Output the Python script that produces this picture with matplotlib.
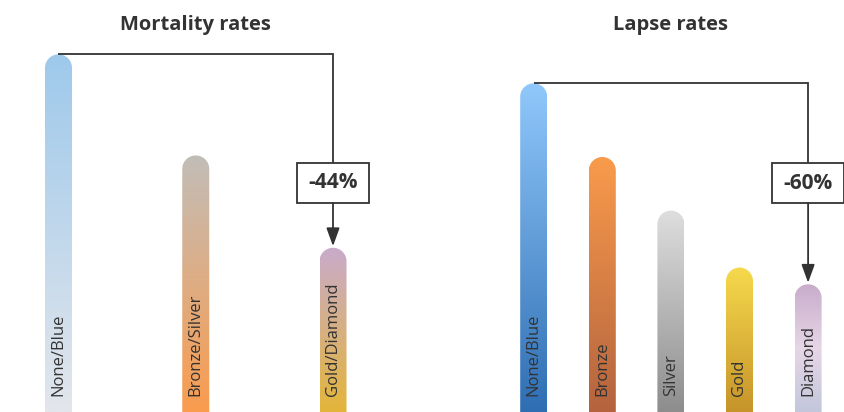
import numpy as np
import matplotlib
matplotlib.use("Agg")
import matplotlib.pyplot as plt
from matplotlib.path import Path
from matplotlib.patches import PathPatch, Rectangle
from matplotlib.colors import to_rgb
import matplotlib.transforms as mtransforms

plt.rcParams['font.family'] = ['Open Sans', 'DejaVu Sans']

# ---------------- data ----------------
mort_categories = ["None/Blue", "Bronze/Silver", "Gold/Diamond"]
mort_values = [100, 77, 56]          # index, None/Blue = 100
mort_change = "-44%"

lapse_categories = ["None/Blue", "Bronze", "Silver", "Gold", "Diamond"]
lapse_values = [100, 78, 62, 45, 40]  # index, None/Blue = 100
lapse_change = "-60%"

mort_colors = [("#9EC9EC", "#E3E6EB"), ("#C2BDB8", "#FA9C4E"), ("#C9ABCB", "#E3B53A")]
lapse_colors = [("#90C8FB", "#2F6EB3"), ("#F99B4C", "#B4633E"), ("#DEDEDE", "#8D8D8D"),
                ("#F6D94C", "#C6942A"), ("#C8ACCB", "#E6D6E6", "#C3C7DC")]

# ---------------- layout ----------------
W, H = 844, 412
fig = plt.figure(figsize=(W / 100, H / 100), dpi=100)
fig.patch.set_facecolor("white")

TXT = "#333333"


def gradient_bar(ax, xc, v, w_data, r_px, ppx, ppy, stops):
    rx = r_px / ppx
    ry = r_px / ppy
    y0 = -1.0
    x0, x1 = xc - w_data / 2, xc + w_data / 2
    verts = [(x0, y0), (x1, y0)]
    t = np.linspace(0, np.pi, 30)
    top_c = v - ry
    for a in t:
        verts.append((xc + rx * np.cos(a), top_c + ry * np.sin(a)))
    verts.append((x0, y0))
    path = Path(verts, closed=False)
    patch = PathPatch(path, facecolor="none", edgecolor="none", transform=ax.transData)
    ax.add_patch(patch)
    ylo = ax.get_ylim()[0]
    cols = np.array([to_rgb(c) for c in stops[::-1]])  # bottom -> top
    n = 256
    pos = np.linspace(0, 1, len(cols))
    f = np.linspace(0, 1, n)
    grad = np.stack([np.interp(f, pos, cols[:, k]) for k in range(3)], axis=1)
    img = grad[:, None, :]
    im = ax.imshow(img, extent=(x0, x1, ylo, v), origin="lower", aspect="auto",
                   interpolation="bilinear", zorder=2)
    im.set_clip_path(patch)


def panel(x0_px, x1_px, first_center_px, spacing_px, base_px, unit_px,
          cats, vals, colors, title, change, target_idx):
    ax = fig.add_axes([x0_px / W, 0, (x1_px - x0_px) / W, 1])
    ax.set_xlim((x0_px - first_center_px) / spacing_px, (x1_px - first_center_px) / spacing_px)
    unit = 100.0
    ax.set_ylim((base_px - H) / unit_px * unit, base_px / unit_px * unit)
    ax.set_autoscale_on(False)
    ax.axis("off")
    ppx = spacing_px
    ppy = unit_px / unit
    bar_w_px = 27
    w_data = bar_w_px / ppx
    xs = np.arange(len(cats))
    for x, v, c, col in zip(xs, vals, cats, colors):
        gradient_bar(ax, x, v, w_data, bar_w_px / 2, ppx, ppy, col)
        ax.text(x, 1 - 396 / H, c, rotation=90, ha="center", va="bottom",
                fontsize=12, color=TXT, zorder=5,
                transform=mtransforms.blended_transform_factory(ax.transData, ax.transAxes))
    # title
    ax.text(0.5, 1 - 25 / H, title, transform=ax.transAxes, ha="center", va="center",
            fontsize=14.5, fontweight="bold", color=TXT)
    # bracket
    v0 = vals[0]
    xt = xs[target_idx]
    vt = vals[target_idx]
    box_cy = (1 - 183 / H)
    box_cy_data = ax.get_ylim()[0] + box_cy * (ax.get_ylim()[1] - ax.get_ylim()[0])
    bh = 20 / ppy
    bw = 36 / ppx
    ax.plot([0, xt, xt], [v0, v0, box_cy_data + bh], color=TXT, lw=1.3,
            solid_capstyle="butt", solid_joinstyle="miter", zorder=3, clip_on=False)
    ax.add_patch(Rectangle((xt - bw, box_cy_data - bh), 2 * bw, 2 * bh, facecolor="white",
                           edgecolor=TXT, lw=1.3, zorder=4, clip_on=False))
    ax.text(xt, box_cy_data, change, ha="center", va="center", fontsize=15,
            fontweight="bold", color=TXT, zorder=5)
    ax.annotate("", xy=(xt, vt + 1.6 / ppy), xytext=(xt, box_cy_data - bh),
                arrowprops=dict(arrowstyle="-|>,head_length=0.55,head_width=0.2",
                                mutation_scale=20, color=TXT, lw=1.3,
                                shrinkA=0, shrinkB=0), zorder=4)
    return ax


panel(0, 391.5, 58.5, 137.25, 494, 439.7, mort_categories, mort_values, mort_colors,
      "Mortality rates", mort_change, 2)
panel(500, 841.6, 533.7, 68.6, 418.3, 335.0, lapse_categories, lapse_values, lapse_colors,
      "Lapse rates", lapse_change, 4)

fig.savefig("out.png", dpi=100, facecolor="white")
